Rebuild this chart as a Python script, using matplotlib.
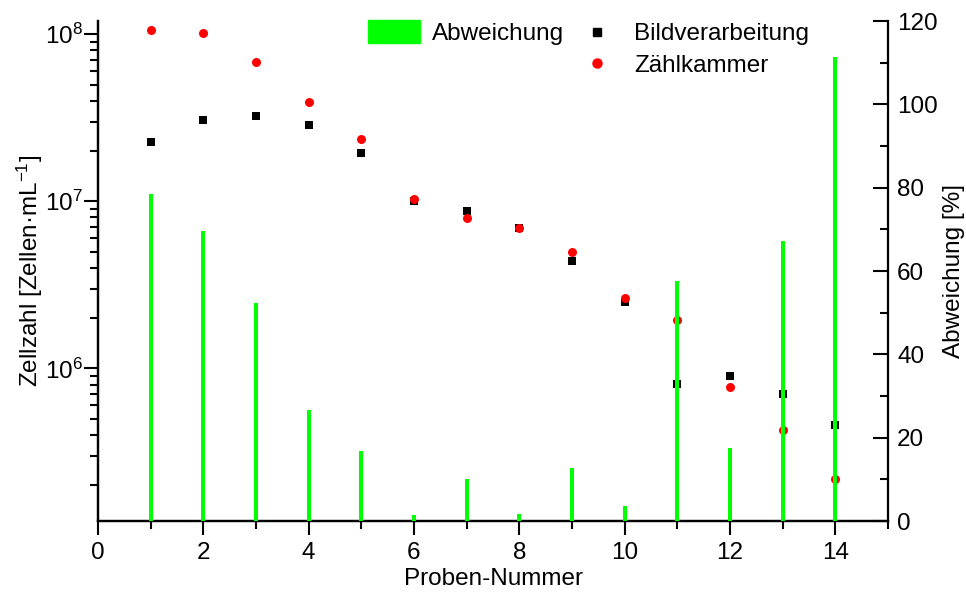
import matplotlib
matplotlib.use("Agg")
import matplotlib.pyplot as plt
import matplotlib.ticker as mticker
from matplotlib.patches import Patch
from matplotlib.lines import Line2D

plt.rcParams['font.family'] = ['Liberation Sans', 'DejaVu Sans']
plt.rcParams['mathtext.fontset'] = 'custom'
plt.rcParams['mathtext.rm'] = 'Liberation Sans'
plt.rcParams['mathtext.default'] = 'regular'

proben = [1, 2, 3, 4, 5, 6, 7, 8, 9, 10, 11, 12, 13, 14]
bildverarbeitung = [2.27e7, 3.08e7, 3.24e7, 2.87e7, 1.95e7, 1.01e7, 8.8e6,
                    6.9e6, 4.37e6, 2.51e6, 8.1e5, 8.96e5, 7.06e5, 4.59e5]
zaehlkammer = [1.06e8, 1.02e8, 6.84e7, 3.94e7, 2.36e7, 1.03e7, 7.9e6,
               6.9e6, 5.0e6, 2.62e6, 1.94e6, 7.7e5, 4.29e5, 2.19e5]
abweichung = [78.5, 69.6, 52.3, 26.6, 16.8, 1.4, 10.2, 1.6, 12.7, 3.6,
              57.6, 17.5, 67.2, 111.4]

FS = 17.5
W, H = 966, 592
fig = plt.figure(figsize=(W / 100, H / 100), dpi=100)
ax1 = fig.add_axes([98 / W, 71 / H, 790 / W, 500 / H])
ax2 = ax1.twinx()

ax1.scatter(proben, bildverarbeitung, marker='s', s=36, color='black',
            linewidths=0, zorder=3)
ax1.scatter(proben, zaehlkammer, marker='o', s=42, color='#ff0000',
            linewidths=0, zorder=4)
ax1.set_yscale('log')
ax1.set_ylim(1.22e5, 1.2e8)
ax1.set_xlim(0, 15)

ax2.bar(proben, abweichung, width=0.08, color='#00ff00', zorder=3)
ax2.set_ylim(0, 120)

# ticks
ax1.xaxis.set_major_locator(mticker.MultipleLocator(2))
ax1.xaxis.set_minor_locator(mticker.MultipleLocator(1))
ax1.yaxis.set_major_locator(mticker.LogLocator(base=10, numticks=10))
ax1.yaxis.set_minor_locator(mticker.LogLocator(base=10, subs=range(2, 10), numticks=20))
ax1.yaxis.set_minor_formatter(mticker.NullFormatter())
ax1.yaxis.set_major_formatter(mticker.LogFormatterMathtext())
ax1.tick_params(axis='x', which='major', direction='out', length=10,
                width=1.5, labelsize=FS, pad=5)
ax1.tick_params(axis='y', which='major', direction='out', length=10,
                width=1.5, labelsize=FS, pad=1)
ax1.tick_params(axis='both', which='minor', direction='out', length=6,
                width=1.5)
ax1.tick_params(axis='y', which='both', right=False)

ax2.yaxis.set_major_locator(mticker.MultipleLocator(20))
ax2.yaxis.set_minor_locator(mticker.MultipleLocator(10))
ax2.tick_params(axis='y', which='major', direction='in', length=11,
                width=1.5, labelsize=FS, pad=6.5)
ax2.tick_params(axis='y', which='minor', direction='in', length=6, width=1.5)

for ax in (ax1, ax2):
    ax.spines['top'].set_visible(False)
    for sp in ('left', 'right', 'bottom'):
        ax.spines[sp].set_linewidth(1.6)
ax1.spines['right'].set_visible(False)

ax1.set_xlabel('Proben-Nummer', fontsize=FS, labelpad=3)
ax1.set_ylabel('Zellzahl [Zellen·mL$^{-1}$]', fontsize=FS, labelpad=0)
ax2.set_ylabel('Abweichung [%]', fontsize=FS, labelpad=4)

# legends
leg1 = ax2.legend([Patch(color='#00ff00')], ['Abweichung'],
                  loc='upper left', bbox_to_anchor=(368 / W, 1 - 20 / H),
                  bbox_transform=fig.transFigure, frameon=False,
                  fontsize=FS, handlelength=2.15, handleheight=1.05,
                  handletextpad=0.5, borderpad=0, borderaxespad=0)
ax2.add_artist(leg1)
handles = [Line2D([], [], marker='s', linestyle='none', color='black',
                  markersize=6),
           Line2D([], [], marker='o', linestyle='none', color='#ff0000',
                  markersize=6.5)]
leg2 = ax2.legend(handles, ['Bildverarbeitung', 'Zählkammer'],
                  loc='upper left', bbox_to_anchor=(573 / W, 1 - 23 / H),
                  bbox_transform=fig.transFigure, frameon=False,
                  fontsize=FS, handlelength=2.0, handletextpad=0.5,
                  labelspacing=0.4, borderpad=0, borderaxespad=0)

fig.savefig('out.png', dpi=100)
